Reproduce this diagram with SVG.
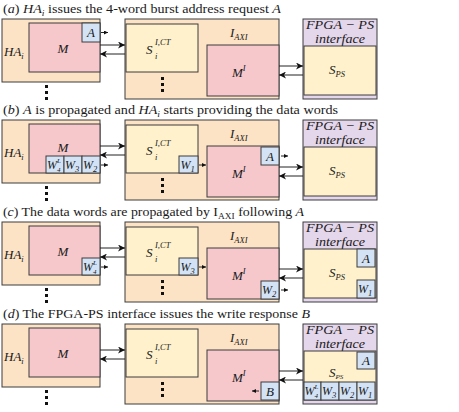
<svg xmlns="http://www.w3.org/2000/svg" width="459" height="412" viewBox="0 0 459 412">
<style>
rect{stroke:#3c3c3c;stroke-width:1}
.ha{fill:#FCE3C6}
.m{fill:#F6C8CC}
.s{fill:#FEF1CC}
.fp{fill:#E4D6EB}
.w{fill:#D3E3F5}
.dot{fill:#111;stroke:none}
text{font-family:"Liberation Serif","DejaVu Serif",serif;fill:#1a1a1a}
.t{font-size:12.5px}
.l{font-style:italic;font-size:13px}
.wl{font-style:italic;font-size:12px}
.i{font-style:italic}
.sm{font-size:8.5px}
.xs{font-size:7px}
.c{stroke:#222;stroke-width:1;fill:none}
.big{marker-end:url(#ah)}
.sml{marker-end:url(#as)}
</style>
<defs>
<marker id="ah" markerWidth="8" markerHeight="7" refX="7" refY="3.5" orient="auto" markerUnits="userSpaceOnUse">
<path d="M0,0 L7,3.5 L0,7 L2,3.5 Z" fill="#111"/>
</marker>
<marker id="as" markerWidth="5" markerHeight="4" refX="4" refY="2" orient="auto" markerUnits="userSpaceOnUse">
<path d="M0,0 L4,2 L0,4 Z" fill="#111"/>
</marker>
</defs>

<!-- panel a -->
<g id="panel-a">
<text class="t" x="3" y="13" textLength="278" lengthAdjust="spacingAndGlyphs">(<tspan class="i">a</tspan>) <tspan class="i">HA</tspan><tspan class="i sm" dy="3">i</tspan><tspan dy="-3"> issues the 4-word burst address request </tspan><tspan class="i">A</tspan></text>
<g id="a-HA"><rect class="ha" x="2" y="19" width="98" height="63"/><text class="l" x="4" y="56">HA<tspan class="sm" dy="3">i</tspan></text>
<rect class="dot" x="45" y="85" width="3" height="3"/><rect class="dot" x="45" y="91" width="3" height="3"/><rect class="dot" x="45" y="97" width="3" height="3"/></g>
<g id="a-M"><rect class="m" x="29" y="23" width="71" height="49"/><text class="l" x="63" y="53" text-anchor="middle">M</text></g>
<g id="a-IAXI"><rect class="ha" x="125" y="19" width="154" height="80"/><text class="l" x="230" y="37">I<tspan class="sm" dy="3">AXI</tspan></text>
<rect class="dot" x="161" y="77" width="3" height="3"/><rect class="dot" x="161" y="83" width="3" height="3"/><rect class="dot" x="161" y="89" width="3" height="3"/></g>
<g id="a-S"><rect class="s" x="126" y="24" width="72" height="48"/><text class="l" x="146" y="54">S</text><text class="l sm" x="155" y="59">i</text><text class="l sm" x="155" y="45">I,CT</text></g>
<g id="a-MI"><rect class="m" x="207" y="45" width="72" height="51"/><text class="l" x="232" y="77">M<tspan class="sm" dy="-6">I</tspan></text></g>
<g id="a-FPGA"><rect class="fp" x="303" y="19" width="74" height="80"/><text class="l" x="340" y="29" text-anchor="middle" textLength="68" lengthAdjust="spacingAndGlyphs">FPGA − PS</text><text class="l" x="340" y="43" text-anchor="middle" textLength="50" lengthAdjust="spacingAndGlyphs">interface</text></g>
<g id="a-SPS"><rect class="s" x="304" y="46" width="72" height="49"/><text class="l" x="329" y="74">S<tspan class="sm" dy="2.5">PS</tspan></text></g>
<g id="a-A"><rect class="w" x="82" y="23" width="18" height="19"/><text class="l" x="91" y="37" text-anchor="middle">A</text></g>
<g id="a-connectors">
<line class="c big" x1="100" y1="45" x2="125" y2="45"/>
<line class="c big" x1="125" y1="54" x2="100" y2="54"/>
<line class="c big" x1="279" y1="66" x2="303" y2="66"/>
<line class="c big" x1="303" y1="75" x2="279" y2="75"/>
<line class="c sml" x1="101" y1="32.5" x2="108" y2="32.5"/>
</g>
</g>

<!-- panel b -->
<g id="panel-b" transform="translate(0,101)">
<text class="t" x="3" y="13" textLength="335" lengthAdjust="spacingAndGlyphs">(<tspan class="i">b</tspan>) <tspan class="i">A</tspan> is propagated and <tspan class="i">HA</tspan><tspan class="i sm" dy="3">i</tspan><tspan dy="-3"> starts providing the data words</tspan></text>
<g id="b-HA"><rect class="ha" x="2" y="19" width="98" height="63"/><text class="l" x="4" y="56">HA<tspan class="sm" dy="3">i</tspan></text>
<rect class="dot" x="45" y="85" width="3" height="3"/><rect class="dot" x="45" y="91" width="3" height="3"/><rect class="dot" x="45" y="97" width="3" height="3"/></g>
<g id="b-M"><rect class="m" x="29" y="23" width="71" height="49"/><text class="l" x="63" y="51" text-anchor="middle">M</text></g>
<g id="b-IAXI"><rect class="ha" x="125" y="19" width="154" height="80"/><text class="l" x="230" y="37">I<tspan class="sm" dy="3">AXI</tspan></text>
<rect class="dot" x="161" y="77" width="3" height="3"/><rect class="dot" x="161" y="83" width="3" height="3"/><rect class="dot" x="161" y="89" width="3" height="3"/></g>
<g id="b-S"><rect class="s" x="126" y="24" width="72" height="48"/><text class="l" x="146" y="54">S</text><text class="l sm" x="155" y="59">i</text><text class="l sm" x="155" y="45">I,CT</text></g>
<g id="b-MI"><rect class="m" x="207" y="45" width="72" height="51"/><text class="l" x="232" y="77">M<tspan class="sm" dy="-6">I</tspan></text></g>
<g id="b-FPGA"><rect class="fp" x="303" y="19" width="74" height="80"/><text class="l" x="340" y="29" text-anchor="middle" textLength="68" lengthAdjust="spacingAndGlyphs">FPGA − PS</text><text class="l" x="340" y="43" text-anchor="middle" textLength="50" lengthAdjust="spacingAndGlyphs">interface</text></g>
<g id="b-SPS"><rect class="s" x="304" y="46" width="72" height="49"/><text class="l" x="329" y="74">S<tspan class="sm" dy="2.5">PS</tspan></text></g>
<g id="b-W4"><rect class="w" x="46" y="55" width="18" height="17"/><text class="wl" x="47" y="68">W<tspan class="xs" dy="3">4</tspan><tspan class="xs" dx="-3.5" dy="-9">L</tspan></text></g>
<g id="b-W3"><rect class="w" x="64" y="55" width="18" height="17"/><text class="wl" x="65" y="68">W<tspan class="sm" dy="2.5">3</tspan></text></g>
<g id="b-W2"><rect class="w" x="82" y="55" width="18" height="17"/><text class="wl" x="83" y="68">W<tspan class="sm" dy="2.5">2</tspan></text></g>
<g id="b-W1"><rect class="w" x="179" y="55" width="19" height="17"/><text class="wl" x="180.5" y="68">W<tspan class="sm" dy="2.5">1</tspan></text></g>
<g id="b-A"><rect class="w" x="261" y="46" width="18" height="18"/><text class="l" x="270" y="60" text-anchor="middle">A</text></g>
<g id="b-connectors">
<line class="c big" x1="100" y1="45" x2="125" y2="45"/>
<line class="c big" x1="125" y1="54" x2="100" y2="54"/>
<line class="c big" x1="279" y1="66" x2="303" y2="66"/>
<line class="c big" x1="303" y1="75" x2="279" y2="75"/>
<line class="c sml" x1="101" y1="64" x2="108" y2="64"/>
<line class="c sml" x1="199" y1="64" x2="206" y2="64"/>
<line class="c sml" x1="281" y1="55" x2="288" y2="55"/>
</g>
</g>

<!-- panel c -->
<g id="panel-c" transform="translate(0,203)">
<text class="t" x="3" y="13" textLength="301" lengthAdjust="spacingAndGlyphs">(<tspan class="i">c</tspan>) The data words are propagated by I<tspan class="sm" dy="3">AXI</tspan><tspan dy="-3"> following </tspan><tspan class="i">A</tspan></text>
<g id="c-HA"><rect class="ha" x="2" y="19" width="98" height="63"/><text class="l" x="4" y="56">HA<tspan class="sm" dy="3">i</tspan></text>
<rect class="dot" x="45" y="85" width="3" height="3"/><rect class="dot" x="45" y="91" width="3" height="3"/><rect class="dot" x="45" y="97" width="3" height="3"/></g>
<g id="c-M"><rect class="m" x="29" y="23" width="71" height="49"/><text class="l" x="63" y="53" text-anchor="middle">M</text></g>
<g id="c-IAXI"><rect class="ha" x="125" y="19" width="154" height="80"/><text class="l" x="230" y="37">I<tspan class="sm" dy="3">AXI</tspan></text>
<rect class="dot" x="161" y="77" width="3" height="3"/><rect class="dot" x="161" y="83" width="3" height="3"/><rect class="dot" x="161" y="89" width="3" height="3"/></g>
<g id="c-S"><rect class="s" x="126" y="24" width="72" height="48"/><text class="l" x="146" y="54">S</text><text class="l sm" x="155" y="59">i</text><text class="l sm" x="155" y="45">I,CT</text></g>
<g id="c-MI"><rect class="m" x="207" y="45" width="72" height="51"/><text class="l" x="232" y="77">M<tspan class="sm" dy="-6">I</tspan></text></g>
<g id="c-FPGA"><rect class="fp" x="303" y="19" width="74" height="80"/><text class="l" x="340" y="29" text-anchor="middle" textLength="68" lengthAdjust="spacingAndGlyphs">FPGA − PS</text><text class="l" x="340" y="43" text-anchor="middle" textLength="50" lengthAdjust="spacingAndGlyphs">interface</text></g>
<g id="c-SPS"><rect class="s" x="304" y="46" width="72" height="49"/><text class="l" x="329" y="74">S<tspan class="sm" dy="2.5">PS</tspan></text></g>
<g id="c-W4"><rect class="w" x="82" y="55" width="18" height="17"/><text class="wl" x="83" y="68">W<tspan class="xs" dy="3">4</tspan><tspan class="xs" dx="-3.5" dy="-9">L</tspan></text></g>
<g id="c-W3"><rect class="w" x="179" y="55" width="19" height="17"/><text class="wl" x="180.5" y="68">W<tspan class="sm" dy="2.5">3</tspan></text></g>
<g id="c-W2"><rect class="w" x="261" y="78" width="18" height="18"/><text class="wl" x="262" y="91">W<tspan class="sm" dy="2.5">2</tspan></text></g>
<g id="c-A"><rect class="w" x="357" y="46" width="18" height="18"/><text class="l" x="366" y="60" text-anchor="middle">A</text></g>
<g id="c-W1"><rect class="w" x="357" y="77" width="18" height="18"/><text class="wl" x="358" y="90">W<tspan class="sm" dy="2.5">1</tspan></text></g>
<g id="c-connectors">
<line class="c big" x1="100" y1="45" x2="125" y2="45"/>
<line class="c big" x1="125" y1="54" x2="100" y2="54"/>
<line class="c big" x1="279" y1="66" x2="303" y2="66"/>
<line class="c big" x1="303" y1="75" x2="279" y2="75"/>
<line class="c sml" x1="101" y1="64" x2="108" y2="64"/>
<line class="c sml" x1="199" y1="64" x2="206" y2="64"/>
<line class="c sml" x1="281" y1="87" x2="288" y2="87"/>
</g>
</g>

<!-- panel d -->
<g id="panel-d" transform="translate(0,305)">
<text class="t" x="3" y="13" textLength="307" lengthAdjust="spacingAndGlyphs">(<tspan class="i">d</tspan>) The FPGA-PS interface issues the write response <tspan class="i">B</tspan></text>
<g id="d-HA"><rect class="ha" x="2" y="19" width="98" height="63"/><text class="l" x="4" y="56">HA<tspan class="sm" dy="3">i</tspan></text>
<rect class="dot" x="45" y="85" width="3" height="3"/><rect class="dot" x="45" y="91" width="3" height="3"/><rect class="dot" x="45" y="97" width="3" height="3"/></g>
<g id="d-M"><rect class="m" x="29" y="23" width="71" height="49"/><text class="l" x="63" y="53" text-anchor="middle">M</text></g>
<g id="d-IAXI"><rect class="ha" x="125" y="19" width="154" height="80"/><text class="l" x="230" y="37">I<tspan class="sm" dy="3">AXI</tspan></text>
<rect class="dot" x="161" y="77" width="3" height="3"/><rect class="dot" x="161" y="83" width="3" height="3"/><rect class="dot" x="161" y="89" width="3" height="3"/></g>
<g id="d-S"><rect class="s" x="126" y="24" width="72" height="48"/><text class="l" x="146" y="54">S</text><text class="l sm" x="155" y="59">i</text><text class="l sm" x="155" y="45">I,CT</text></g>
<g id="d-MI"><rect class="m" x="207" y="45" width="72" height="51"/><text class="l" x="232" y="77">M<tspan class="sm" dy="-6">I</tspan></text></g>
<g id="d-FPGA"><rect class="fp" x="303" y="19" width="74" height="80"/><text class="l" x="340" y="29" text-anchor="middle" textLength="68" lengthAdjust="spacingAndGlyphs">FPGA − PS</text><text class="l" x="340" y="43" text-anchor="middle" textLength="50" lengthAdjust="spacingAndGlyphs">interface</text></g>
<g id="d-SPS"><rect class="s" x="304" y="46" width="72" height="49"/><text class="l" x="329" y="72">S<tspan class="xs" dy="2">PS</tspan></text></g>
<g id="d-B"><rect class="w" x="261" y="77" width="18" height="18"/><text class="l" x="270" y="91" text-anchor="middle">B</text></g>
<g id="d-A"><rect class="w" x="357" y="47" width="18" height="17"/><text class="l" x="366" y="60" text-anchor="middle">A</text></g>
<g id="d-W4"><rect class="w" x="304" y="77" width="17" height="18"/><text class="wl" x="304.5" y="90">W<tspan class="xs" dy="3">4</tspan><tspan class="xs" dx="-3.5" dy="-9">L</tspan></text></g>
<g id="d-W3"><rect class="w" x="321" y="77" width="18" height="18"/><text class="wl" x="322" y="90">W<tspan class="sm" dy="2.5">3</tspan></text></g>
<g id="d-W2"><rect class="w" x="339" y="77" width="18" height="18"/><text class="wl" x="340" y="90">W<tspan class="sm" dy="2.5">2</tspan></text></g>
<g id="d-W1"><rect class="w" x="357" y="77" width="18" height="18"/><text class="wl" x="358" y="90">W<tspan class="sm" dy="2.5">1</tspan></text></g>
<g id="d-connectors">
<line class="c big" x1="100" y1="45" x2="125" y2="45"/>
<line class="c big" x1="125" y1="54" x2="100" y2="54"/>
<line class="c big" x1="279" y1="66" x2="303" y2="66"/>
<line class="c big" x1="303" y1="75" x2="279" y2="75"/>
<line class="c sml" x1="259" y1="86" x2="252" y2="86"/>
</g>
</g>
</svg>
